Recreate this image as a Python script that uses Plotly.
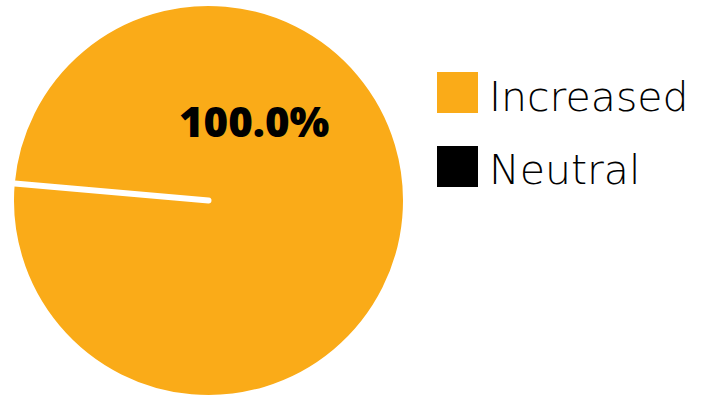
import plotly.graph_objects as go

labels = ["Increased", "Neutral"]
values = [100, 0]
colors = ["#FAAB18", "#000000"]

W, H = 708, 398

fig = go.Figure(
    go.Pie(
        labels=labels,
        values=values,
        marker=dict(colors=colors, line=dict(color="white", width=6)),
        sort=False,
        rotation=275,
        direction="clockwise",
        textinfo="none",
        hoverinfo="label+percent",
        showlegend=False,
        domain=dict(x=[11 / W, 406 / W], y=[0, 1 - 3 / H]),
    )
)

# percentage label for the dominant slice
total = sum(values)
share = values[0] / total * 100
fig.add_annotation(
    x=254 / W, y=1 - 121 / H, xref="paper", yref="paper",
    text=f"{share:.1f}%", showarrow=False,
    font=dict(family="Open Sans", size=42, color="black", weight=800),
    xanchor="center", yanchor="middle",
)

# custom legend: large colour swatches with labels
legend_x0, legend_y0, swatch, step = 437, 72, 41, 74
for i, (lab, col) in enumerate(zip(labels, colors)):
    top = legend_y0 + i * step
    fig.add_shape(
        type="rect", xref="paper", yref="paper",
        x0=legend_x0 / W, x1=(legend_x0 + swatch) / W,
        y0=1 - (top + swatch) / H, y1=1 - top / H,
        fillcolor=col, line=dict(width=0),
    )
    fig.add_annotation(
        x=(legend_x0 + swatch + 9) / W, y=1 - (top + swatch / 2 + 4) / H,
        xref="paper", yref="paper", text=lab, showarrow=False,
        font=dict(family="DejaVu Sans", size=41, color="black", weight=200),
        xanchor="left", yanchor="middle",
    )

fig.update_layout(
    width=W,
    height=H,
    margin=dict(l=0, r=0, t=0, b=0),
    paper_bgcolor="white",
    plot_bgcolor="white",
)

fig.write_html("out.html")
